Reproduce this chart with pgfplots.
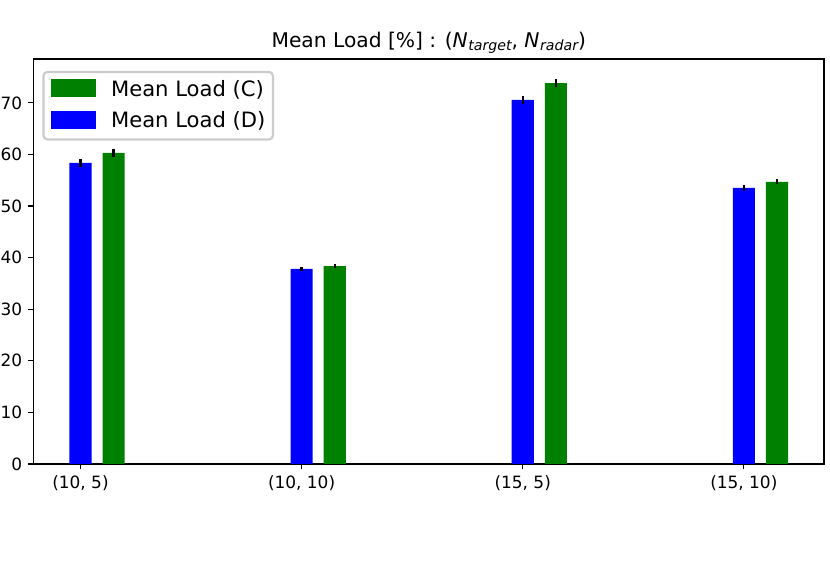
\documentclass[border=0pt]{standalone}
\usepackage{pgfplots}
\pgfplotsset{compat=1.18}
\usepackage{fontspec}
\setmainfont{DejaVu Sans}
\definecolor{cblue}{RGB}{0,0,255}
\definecolor{cgreen}{RGB}{0,128,0}
\definecolor{lgray}{RGB}{204,204,204}

\begin{document}
\begin{tikzpicture}
\useasboundingbox (-33.5bp,-123bp) rectangle (796.5bp,464bp);
\begin{axis}[
  at={(0,0)}, anchor=south west,
  scale only axis,
  width=790.5bp, height=405bp,
  ybar, bar width=0.1,
  xmin=-0.2125, xmax=3.3625,
  ymin=0, ymax=78.5,
  xtick={0,1,2,3},
  xticklabels={{(10, 5)},{(10, 10)},{(15, 5)},{(15, 10)}},
  ytick={0,10,...,70},
  tick align=outside, tick pos=left,
  major tick length=5.2bp,
  axis line style={line width=1.1bp},
  every tick/.style={black, line width=1.1bp},
  tick label style={font=\fontsize{17}{20}\selectfont},
  xticklabel style={yshift=-3bp},
  yticklabel style={xshift=-2.6bp},
  /pgf/number format/assume math mode=true,
  title={Mean Load [\%] : (\textit{N}\kern0.5bp\raisebox{-3.8bp}{\fontsize{14.2}{16}\selectfont\itshape target}, \textit{N}\kern0.5bp\raisebox{-3.8bp}{\fontsize{14.2}{16}\selectfont\itshape radar})},
  title style={at={(0.5,1)}, anchor=base, yshift=6bp, inner sep=0pt, font=\fontsize{20.3}{24}\selectfont},
  legend style={
    at={(0.0112,0.97086)}, anchor=north west,
    draw=lgray, line width=2.2bp, rounded corners=4bp,
    inner xsep=7.5bp, inner ysep=7.5bp,
    font=\fontsize{21.2}{25}\selectfont,
    nodes={inner sep=0bp, text height=16.5bp, text depth=4.5bp},
    row sep=10bp,
    legend cell align=left,
  },
]
\addlegendimage{legend image code/.code={\path[draw=none,fill=none] (0bp,0bp) -- (59bp,0bp); \fill[cgreen, sharp corners] (0bp,-6bp) rectangle (42.6bp,9.7bp);}}
\addlegendentry{Mean Load (C)}
\addlegendimage{legend image code/.code={\path[draw=none,fill=none] (0bp,0bp) -- (59bp,0bp); \fill[cblue, sharp corners] (0bp,-6bp) rectangle (42.6bp,9.7bp);}}
\addlegendentry{Mean Load (D)}

% Mean Load (D)
\addplot[fill=cblue, draw=none, bar shift=0, forget plot,
  error bars/.cd, y dir=both, y explicit, error mark=none,
  error bar style={line width=2.4bp, black}]
  coordinates {(0,58.35) +- (0,0.75) (1,37.8) +- (0,0.35) (2,70.6) +- (0,0.75) (3,53.5) +- (0,0.55)};
% Mean Load (C)
\addplot[fill=cgreen, draw=none, bar shift=0.15, forget plot,
  error bars/.cd, y dir=both, y explicit, error mark=none,
  error bar style={line width=2.4bp, black}]
  coordinates {(0,60.3) +- (0,0.85) (1,38.35) +- (0,0.4) (2,73.8) +- (0,0.8) (3,54.7) +- (0,0.5)};
\end{axis}
\end{tikzpicture}
\end{document}
